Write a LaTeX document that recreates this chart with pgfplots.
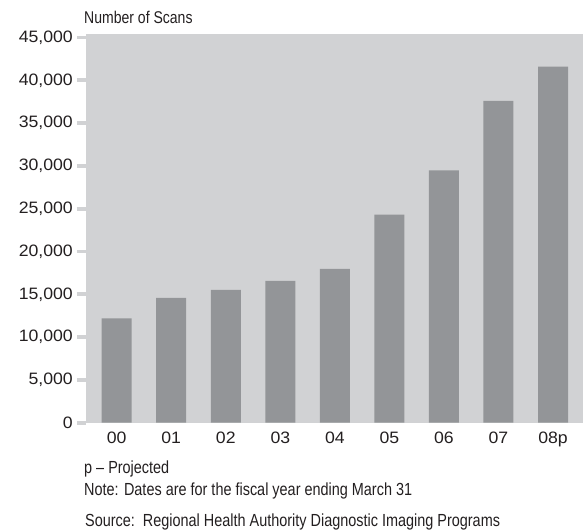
\documentclass[border=0pt]{standalone}
\usepackage{fontspec}
\setmainfont{Liberation Sans}
\newfontfamily\notefont{Liberation Sans}[FakeStretch=0.825]
\newfontfamily\tickfont{Liberation Sans}[FakeStretch=1.07]
\usepackage{pgfplots}
\pgfplotsset{compat=1.18}
\definecolor{bg}{RGB}{209,210,212}
\definecolor{barc}{RGB}{147,149,152}
\definecolor{txt}{RGB}{35,31,32}
\begin{document}
\begin{tikzpicture}
\begin{axis}[
  at={(0,0)}, anchor=south west,
  scale only axis, width=497bp, height=388.7bp,
  xmin=-0.563, xmax=8.55, ymin=0, ymax=45410,
  axis background/.style={fill=bg},
  axis line style={draw=none},
  ybar, bar width=30bp,
  xtick={0,...,8}, xticklabels={00,01,02,03,04,05,06,07,08p},
  ytick={0,5000,...,45000},
  scaled y ticks=false,
  /pgf/number format/1000 sep={,},
  /pgf/number format/assume math mode=true,
  tick label style={font=\tickfont\fontsize{16.5bp}{18bp}\selectfont, text=txt},
  tick align=outside, major tick length=9bp,
  ytick pos=left,
  every tick/.style={draw=bg, line width=3.8bp},
  major tick style={draw=bg, line width=3.8bp},
  major x tick style={draw=none},
  yticklabel style={inner sep=0pt, xshift=-4bp},
  xticklabel style={inner sep=0pt, anchor=north},
]
\addplot[fill=barc, draw=none] coordinates {
(0,12200) (1,14570) (2,15510) (3,16570) (4,17980) (5,24320) (6,29490) (7,37600) (8,41600)};
\end{axis}
\begin{scope}[every node/.style={anchor=base west, inner sep=0pt, text=txt}]
\node[font=\notefont\fontsize{17bp}{18bp}\selectfont] at (-2bp,398.7bp) {Number of Scans};
\node[font=\notefont\fontsize{17.5bp}{18bp}\selectfont] at (-2bp,-50.6bp) {p – Projected};
\node[font=\notefont\fontsize{17.5bp}{18bp}\selectfont] at (-2bp,-73bp) {Note: Dates are for the fiscal year ending March 31};
\node[font=\notefont\fontsize{17.5bp}{18bp}\selectfont] at (-1bp,-103.3bp) {Source:\ \ Regional Health Authority Diagnostic Imaging Programs};
\end{scope}
\pgfresetboundingbox
\useasboundingbox (-86bp,-108.3bp) rectangle (497bp,422.7bp);
\end{tikzpicture}
\end{document}
